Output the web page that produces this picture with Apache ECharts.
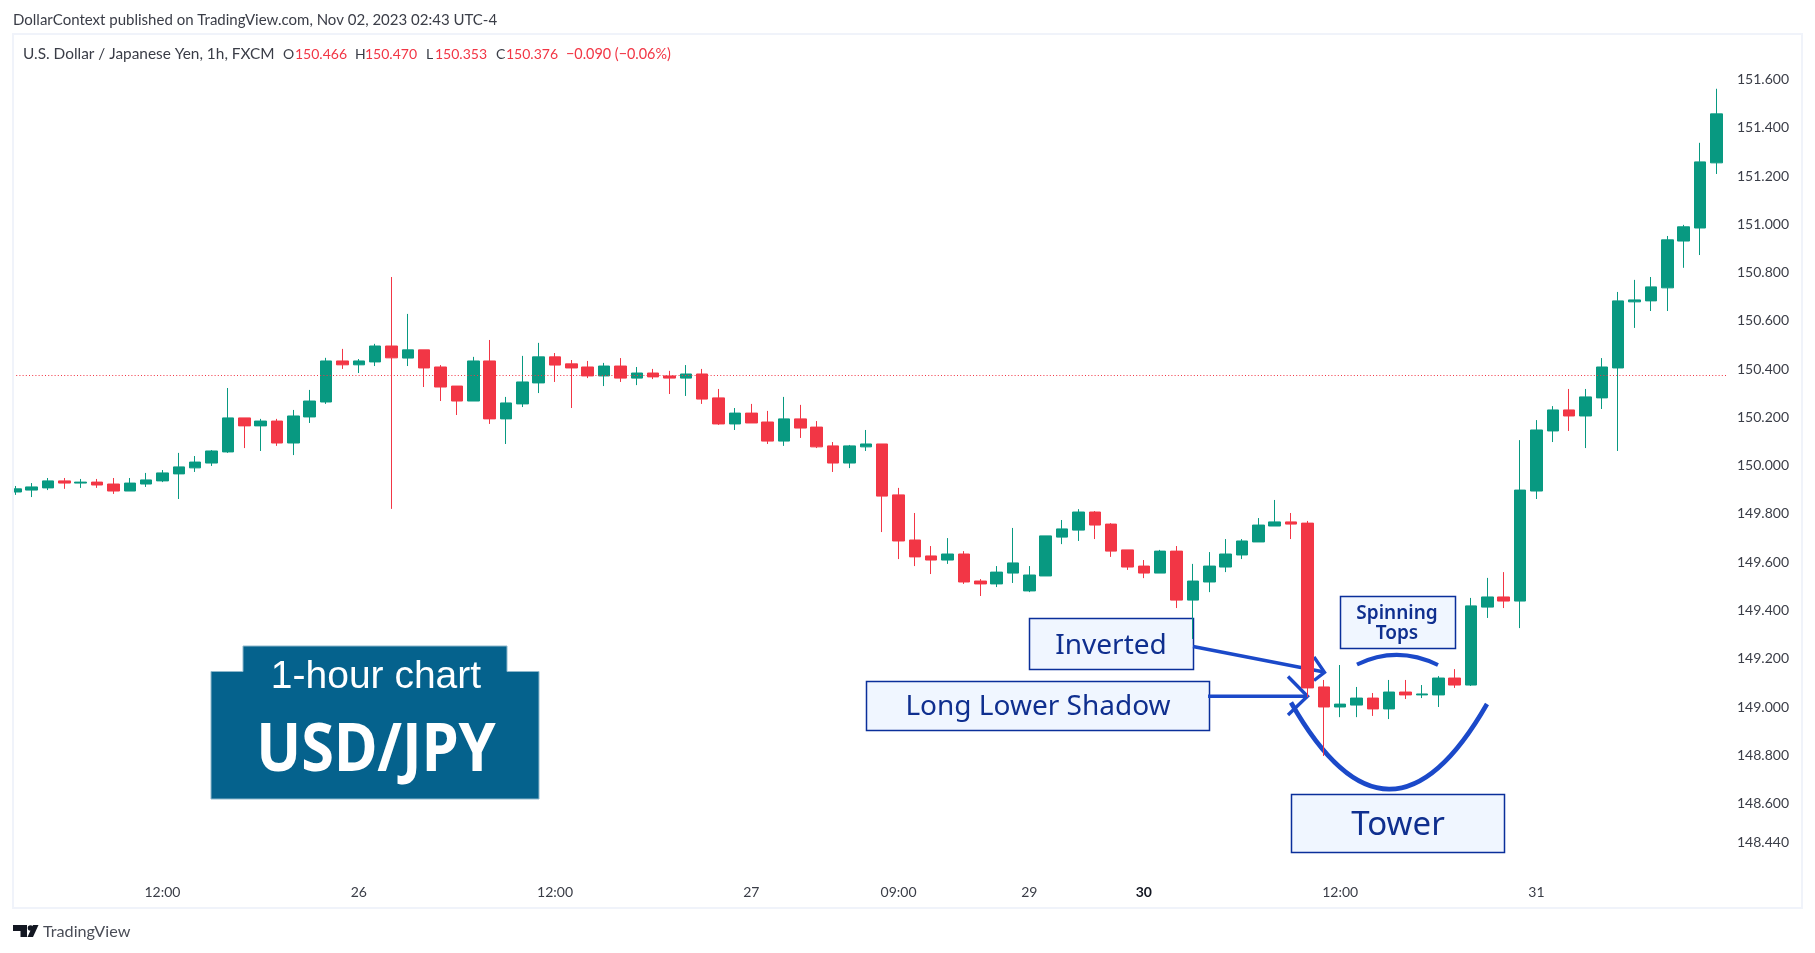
<!DOCTYPE html>
<html>
<head>
<meta charset="utf-8">
<title>USD/JPY 1-hour chart</title>
<script src="https://cdn.jsdelivr.net/npm/echarts@6/dist/echarts.min.js"></script>
<style>
  html, body { margin: 0; padding: 0; background: #fff; }
  #chart { width: 1815px; height: 953px; }
</style>
</head>
<body>
<div id="chart"></div>
<script>
var openPrice = [
  149.891,149.899,149.908,149.937,149.928,149.932,149.924,149.895,149.924,149.937,
  149.966,149.991,150.011,150.057,150.198,150.165,150.185,150.094,150.202,150.264,
  150.434,150.418,150.430,150.496,150.446,150.480,150.409,150.330,150.268,150.434,
  150.194,150.256,150.343,150.451,150.422,150.409,150.372,150.413,150.363,150.384,
  150.372,150.363,150.380,150.281,150.173,150.218,150.181,150.102,150.194,150.160,
  150.082,150.011,150.078,150.090,149.879,149.692,149.626,149.609,149.634,149.522,
  149.510,149.555,149.481,149.543,149.704,149.733,149.808,149.758,149.651,149.584,
  149.555,149.646,149.443,149.518,149.580,149.630,149.684,149.750,149.767,149.762,
  149.083,149.000,149.008,149.037,148.992,149.062,149.050,149.050,149.120,149.091,
  149.414,149.456,149.439,149.895,150.144,150.231,150.206,150.281,150.405,150.679,
  150.683,150.737,150.931,150.985,151.255
];
var highPrice = [
  149.916,149.928,149.949,149.949,149.945,149.945,149.949,149.949,149.970,149.982,
  150.053,150.040,150.065,150.322,150.198,150.194,150.194,150.231,150.314,150.447,
  150.484,150.442,150.505,150.782,150.629,150.480,150.417,150.330,150.451,150.521,
  150.285,150.455,150.509,150.467,150.438,150.434,150.426,150.446,150.409,150.401,
  150.393,150.417,150.401,150.318,150.239,150.256,150.227,150.285,150.252,150.185,
  150.098,150.086,150.148,150.090,149.908,149.804,149.667,149.700,149.646,149.530,
  149.584,149.742,149.584,149.709,149.775,149.820,149.812,149.762,149.651,149.609,
  149.651,149.667,149.593,149.642,149.696,149.696,149.783,149.858,149.804,149.771,
  149.112,149.174,149.083,149.058,149.112,149.112,149.091,149.128,149.157,149.452,
  149.535,149.559,150.106,150.189,150.247,150.318,150.318,150.446,150.720,150.770,
  150.782,150.952,150.998,151.338,151.562
];
var lowPrice = [
  149.879,149.870,149.899,149.904,149.908,149.908,149.883,149.895,149.912,149.932,
  149.862,149.974,149.999,150.053,150.073,150.061,150.082,150.044,150.177,150.256,
  150.401,150.384,150.413,149.821,150.413,150.326,150.268,150.210,150.268,150.173,
  150.090,150.243,150.301,150.347,150.239,150.363,150.330,150.347,150.334,150.359,
  150.297,150.289,150.256,150.169,150.148,150.177,150.090,150.082,150.115,150.073,
  149.974,149.990,150.061,149.725,149.613,149.584,149.551,149.593,149.510,149.460,
  149.497,149.514,149.476,149.543,149.675,149.688,149.696,149.622,149.568,149.534,
  149.555,149.410,149.282,149.476,149.559,149.613,149.684,149.750,149.696,149.041,
  148.797,148.958,148.958,148.963,148.950,149.033,149.037,149.000,149.079,149.087,
  149.369,149.410,149.327,149.862,150.098,150.144,150.073,150.235,150.061,150.571,
  150.641,150.641,150.820,150.873,151.209
];
var closePrice = [
  149.904,149.912,149.937,149.928,149.932,149.920,149.895,149.928,149.941,149.970,
  149.995,150.015,150.061,150.198,150.165,150.185,150.094,150.206,150.268,150.434,
  150.418,150.434,150.496,150.447,150.480,150.405,150.326,150.268,150.434,150.194,
  150.260,150.347,150.451,150.417,150.405,150.372,150.413,150.363,150.384,150.368,
  150.363,150.380,150.276,150.173,150.218,150.177,150.102,150.194,150.156,150.078,
  150.011,150.082,150.090,149.874,149.688,149.622,149.609,149.634,149.518,149.510,
  149.559,149.597,149.547,149.709,149.738,149.808,149.754,149.646,149.580,149.555,
  149.646,149.443,149.522,149.584,149.634,149.688,149.754,149.767,149.758,149.079,
  149.000,149.012,149.037,148.992,149.062,149.050,149.054,149.120,149.091,149.419,
  149.456,149.439,149.899,150.148,150.231,150.206,150.285,150.409,150.683,150.687,
  150.741,150.936,150.990,151.259,151.458
];
var lastPrice = 150.376;

var xTickIndex = [9, 21, 33, 45, 54, 62, 69, 81, 93];
var xTickText = ['12:00', '26', '12:00', '27', '09:00', '29', '30', '12:00', '31'];
var yTicks = [151.6, 151.4, 151.2, 151.0, 150.8, 150.6, 150.4, 150.2, 150.0, 149.8, 149.6, 149.4, 149.2, 149.0, 148.8, 148.6, 148.44];

var categories = [];
var candles = [];
for (var i = 0; i < openPrice.length; i++) {
  categories.push('');
  candles.push([openPrice[i], closePrice[i], lowPrice[i], highPrice[i]]);
}
xTickIndex.forEach(function(idx, n) {
  categories[idx] = xTickText[n];
});

var upColor = '#089981';
var downColor = '#f23645';
var uiFont = 'Lato';
var noteFont = '"Noto Sans"';
var noteText = '#0f2f8f';
var noteBorder = '#0a2f9a';
var noteFill = '#f0f6ff';
var penColor = '#1b49c9';

function label(text, x, y, size, color) {
  return {
    type: 'text', silent: true, z: 1,
    style: { text: text, x: x, y: y, fill: color, font: size + 'px ' + uiFont, textVerticalAlign: 'middle' }
  };
}

function noteLabel(text, x, y, font) {
  return {
    type: 'text', silent: true, z: 1,
    style: { text: text, x: x, y: y, fill: noteText, font: font + ' ' + noteFont, textAlign: 'center', textVerticalAlign: 'middle' }
  };
}

function noteBox(x, y, w, h) {
  return {
    type: 'rect', silent: true, z: 1,
    shape: { x: x, y: y, width: w, height: h },
    style: { fill: noteFill, stroke: noteBorder, lineWidth: 1.5 }
  };
}

function pen(points) {
  return {
    type: 'polyline', silent: true, z: 1,
    shape: { points: points },
    style: { fill: null, stroke: penColor, lineWidth: 3.4 }
  };
}

function arc(x1, y1, cx, cy, x2, y2, width) {
  return {
    type: 'bezierCurve', silent: true, z: 1,
    shape: { x1: x1, y1: y1, cpx1: cx, cpy1: cy, x2: x2, y2: y2 },
    style: { fill: null, stroke: penColor, lineWidth: width }
  };
}

var annotations = [
  // header and legend
  label('DollarContext published on TradingView.com, Nov 02, 2023 02:43 UTC-4', 13, 20, 15, '#3a3d47'),
  label('U.S. Dollar / Japanese Yen, 1h, FXCM', 23, 54, 15.4, '#3a3d47'),
  label('O', 283, 54, 14, '#3a3d47'), label('150.466', 295, 54, 14, downColor),
  label('H', 355, 54, 14, '#3a3d47'), label('150.470', 365, 54, 14, downColor),
  label('L', 426, 54, 14, '#3a3d47'), label('150.353', 435, 54, 14, downColor),
  label('C', 496, 54, 14, '#3a3d47'), label('150.376', 506, 54, 14, downColor),
  label('\u22120.090 (\u22120.06%)', 566, 54, 14.4, downColor),

  // badge
  {
    type: 'polygon', silent: true, z: 1,
    shape: { points: [[243, 646], [507, 646], [507, 671.5], [539, 671.5], [539, 799], [211, 799], [211, 671.5], [243, 671.5]] },
    style: { fill: '#05628d', stroke: '#8fb8cc', lineWidth: 1 }
  },
  { type: 'text', silent: true, z: 1, style: { text: '1-hour chart', x: 376, y: 677, fill: '#fff', font: '39px "Liberation Sans"', textAlign: 'center', textVerticalAlign: 'middle' } },
  { type: 'text', silent: true, z: 1, x: 376, y: 752, scaleX: 0.9, style: { text: 'USD/JPY', x: 0, y: 0, fill: '#fff', font: '700 66px "Noto Sans"', textAlign: 'center', textVerticalAlign: 'middle' } },

  // callouts
  noteBox(1029.5, 618.5, 164, 51),
  noteBox(866.5, 681.5, 343, 49),
  noteBox(1291.5, 794.5, 213, 58),
  noteBox(1340.5, 596.5, 115, 52),
  noteLabel('Inverted', 1111, 646, '28px'),
  noteLabel('Long Lower Shadow', 1038, 707.5, '28px'),
  noteLabel('Tower', 1398, 825.5, '33px'),
  noteLabel('Spinning', 1397, 613.5, '600 19px'),
  noteLabel('Tops', 1397, 633.5, '600 19px'),

  // arrows and arcs
  pen([[1193, 646.5], [1324, 672]]),
  pen([[1314, 657], [1324.5, 672.3], [1314, 680.5]]),
  pen([[1208, 696.3], [1307, 696.3]]),
  pen([[1288, 676.5], [1307.5, 696.3], [1288, 715]]),
  arc(1291, 702.5, 1389, 875, 1487, 704, 4.6),
  arc(1357, 664.5, 1397, 645, 1438, 665, 4),

  // frame, the first candle is cut off by it
  { type: 'rect', silent: true, z: 10, shape: { x: 0, y: 34, width: 13, height: 874 }, style: { fill: '#fff' } },
  { type: 'rect', silent: true, z: 11, shape: { x: 13, y: 34, width: 1789, height: 874 }, style: { fill: null, stroke: '#f0f3fa', lineWidth: 2 } },

  // logo
  { type: 'polygon', silent: true, z: 1, shape: { points: [[13, 925], [27, 925], [27, 937], [20.5, 937], [20.5, 931], [13, 931]] }, style: { fill: '#131722' } },
  { type: 'circle', silent: true, z: 1, shape: { cx: 30.5, cy: 928, r: 2.8 }, style: { fill: '#131722' } },
  { type: 'polygon', silent: true, z: 1, shape: { points: [[33, 925], [38.5, 925], [33, 937], [27.5, 937]] }, style: { fill: '#131722' } },
  label('TradingView', 43, 932, 16.2, '#4a4d57')
];

var myChart = echarts.init(document.getElementById('chart'));

var option = {
  animation: false,
  backgroundColor: '#fff',
  grid: { left: 7.1, right: 90.5, top: 34, bottom: 45 },
  xAxis: {
    type: 'category',
    data: categories,
    axisLine: { show: false },
    axisTick: { show: false },
    splitLine: { show: false },
    axisLabel: {
      inside: true,
      margin: 9,
      hideOverlap: false,
      interval: function(index, value) { return value !== ''; },
      color: '#3a3d47',
      fontFamily: uiFont,
      fontSize: 14,
      formatter: function(value) { return value === '30' ? '{b|30}' : value; },
      rich: { b: { fontFamily: uiFont, fontSize: 14, fontWeight: 'bold', color: '#131722' } }
    }
  },
  yAxis: {
    type: 'value',
    position: 'right',
    scale: true,
    min: 148.167,
    max: 151.789,
    axisLine: { show: false },
    axisTick: { show: false },
    splitLine: { show: false },
    axisLabel: {
      customValues: yTicks,
      margin: 12.5,
      padding: [4, 0, 0, 0],
      color: '#3a3d47',
      fontFamily: uiFont,
      fontSize: 14,
      formatter: function(value) { return value.toFixed(3); }
    }
  },
  graphic: annotations,
  series: [{
    type: 'candlestick',
    data: candles,
    barWidth: 12,
    itemStyle: {
      color: upColor,
      color0: downColor,
      borderColor: upColor,
      borderColor0: downColor,
      borderWidth: 1
    },
    markLine: {
      silent: true,
      symbol: 'none',
      label: { show: false },
      lineStyle: { color: downColor, type: [1, 2.2], width: 1.1, opacity: 1 },
      data: [[{ coord: [0, lastPrice], x: 13 }, { coord: [104, lastPrice], x: 1727 }]]
    }
  }]
};

myChart.setOption(option);
window.addEventListener('resize', function() {
  myChart.resize();
});
</script>
</body>
</html>
